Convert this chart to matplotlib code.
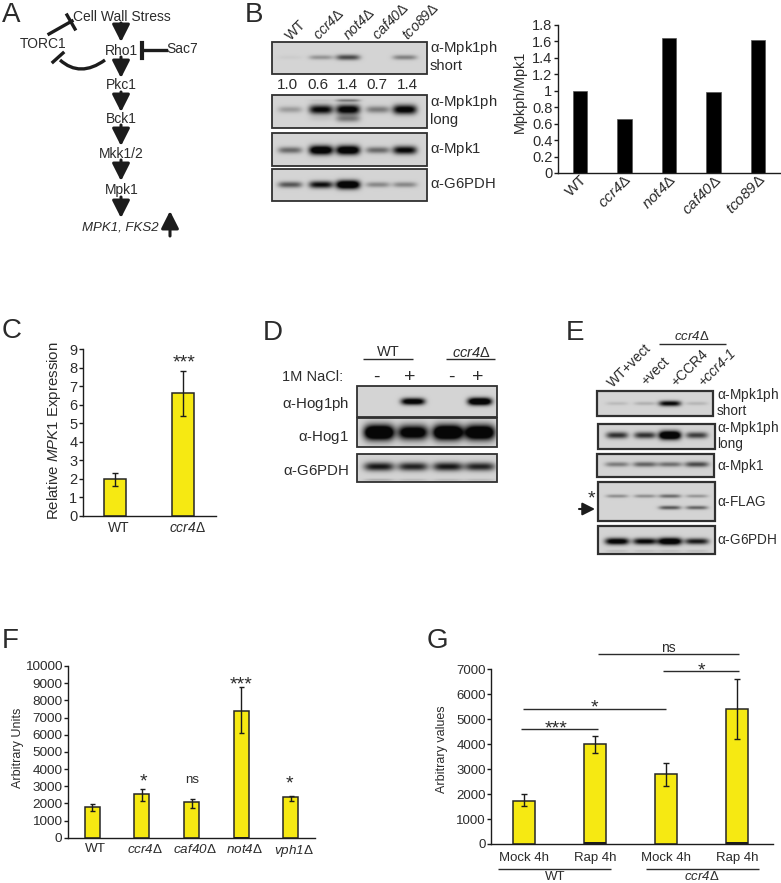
import matplotlib
matplotlib.use("Agg")
import matplotlib.pyplot as plt
import numpy as np
from matplotlib.patches import PathPatch, Rectangle
from matplotlib.path import Path
from matplotlib.transforms import ScaledTranslation

plt.rcParams['font.family'] = ['Liberation Sans', 'DejaVu Sans']
plt.rcParams['mathtext.fontset'] = 'custom'
plt.rcParams['mathtext.rm'] = 'Liberation Sans'
plt.rcParams['mathtext.it'] = 'Liberation Sans:italic'
plt.rcParams['mathtext.bf'] = 'Liberation Sans:bold'

W, H = 781, 883
INK = '#2b2b2b'
YELLOW = '#f6e912'

DELTA = r"$\Delta$"
ALPHA = r"$\mathrm{\alpha}$"

# panel B bar chart
b_labels = ['WT', 'ccr4' + DELTA, 'not4' + DELTA, 'caf40' + DELTA, 'tco89' + DELTA]
b_values = [1.0, 0.66, 1.64, 0.99, 1.62]
b_ticks = [0, 0.2, 0.4, 0.6, 0.8, 1, 1.2, 1.4, 1.6, 1.8]
b_ticklabels = ['0', '0.2', '0.4', '0.6', '0.8', '1', '1.2', '1.4', '1.6', '1.8']
b_ratios = ['1.0', '0.6', '1.4', '0.7', '1.4']

# panel C
c_labels = ['WT', 'ccr4' + DELTA]
c_values = [2.0, 6.65]
c_err_low = [0.4, 1.25]
c_err_high = [0.3, 1.2]
c_ticks = [0, 1, 2, 3, 4, 5, 6, 7, 8, 9]

# panel F
f_labels = ['WT', 'ccr4' + DELTA, 'caf40' + DELTA, 'not4' + DELTA, 'vph1' + DELTA]
f_values = [1780, 2550, 2080, 7400, 2360]
f_err_low = [220, 415, 370, 1320, 225]
f_err_high = [200, 265, 150, 1360, 70]
f_base = [0, 0, 0, 130, 0]
f_ticks = [0, 1000, 2000, 3000, 4000, 5000, 6000, 7000, 8000, 9000, 10000]

# panel G
g_labels = ['Mock 4h', 'Rap 4h', 'Mock 4h', 'Rap 4h']
g_values = [1737, 3994, 2805, 5397]
g_err_low = [214, 361, 481, 1202]
g_err_high = [267, 334, 454, 1203]
g_base = [0, 80, 0, 80]
g_ticks = [0, 1000, 2000, 3000, 4000, 5000, 6000, 7000]

# blot band strengths, one per lane
bb_short = [0.03, 0.25, 0.55, 0.0, 0.33]
bb_long = [0.22, 0.85, 0.95, 0.35, 0.92]
bb_long_smear = [0.0, 0.05, 0.35, 0.0, 0.0]
bb_mpk1 = [0.42, 1.1, 1.1, 0.42, 0.85]
bb_g6pdh = [0.5, 0.8, 1.2, 0.3, 0.3]

dd_hog1ph = [0.0, 1.0, 0.0, 1.2]
dd_hog1 = [1.4, 1.1, 1.4, 1.3]
dd_g6pdh = [0.75, 0.7, 0.75, 0.7]
dd_g6pdh_low = [0.15, 0.1, 0.1, 0.1]

ee_short = [0.1, 0.14, 0.85, 0.12]
ee_long = [0.65, 0.65, 1.3, 0.6]
ee_mpk1 = [0.35, 0.45, 0.4, 0.55]
ee_flag_top = [0.28, 0.28, 0.42, 0.25]
ee_flag_low = [0.0, 0.0, 0.5, 0.45]
ee_g6pdh = [0.95, 0.85, 1.1, 0.75]
ee_g6pdh_low = [0.1, 0.1, 0.1, 0.1]


fig = plt.figure(figsize=(W / 100, H / 100), dpi=100, facecolor='white')

# overlay in image pixels, for the diagram, blots and annotations
ov = fig.add_axes([0, 0, 1, 1], zorder=5)
ov.set_xlim(0, W)
ov.set_ylim(H, 0)
ov.axis('off')
ov.set_autoscale_on(False)


def txt(x, y, s, size=10, ha='center', va='center', **kw):
    ov.text(x, y, s, fontsize=size, ha=ha, va=va, color=INK, **kw)


def stars(x, y, n=1):
    # baseline sits well below the asterisk itself
    txt(x, y + 8, '*' * n, size=14, va='baseline')


def hline(x0, x1, y, lw=1.0):
    ov.plot([x0, x1], [y, y], color=INK, lw=lw, solid_capstyle='butt')


def arrow(x0, y0, x1, y1, scale=14, lw=2.2):
    ov.annotate('', xy=(x1, y1), xytext=(x0, y0),
                arrowprops=dict(arrowstyle='-|>,head_length=0.75,head_width=0.38',
                                mutation_scale=scale, lw=lw, color='#1c1c1c',
                                shrinkA=0, shrinkB=0))


def blot(x0, x1, y0, y1, lanes, rows, half_w=12, bg=0.83, lw=1.3):
    # rows: (fraction down the blot, band strengths, band half height)
    xs = np.linspace(x0, x1, int((x1 - x0) * 2))
    ys = np.linspace(y0, y1, int((y1 - y0) * 2))
    xx, yy = np.meshgrid(xs, ys)
    img = np.full(xx.shape, bg)
    for frac, strengths, half_h in rows:
        yc = y0 + frac * (y1 - y0)
        for lane, s in zip(lanes, strengths):
            h = half_h * (0.55 + 0.45 * min(s, 1.2))
            band = np.exp(-((xx - lane) / half_w) ** 4 - ((yy - yc) / h) ** 2)
            img -= s * band
    ov.imshow(np.clip(img, 0.03, 1), extent=(x0, x1, y1, y0), aspect='auto',
              cmap='gray', vmin=0, vmax=1, interpolation='bilinear', zorder=1)
    ov.add_patch(Rectangle((x0, y0), x1 - x0, y1 - y0, fill=False,
                           ec='#303030', lw=lw, zorder=2))


def chart_axes(x0, x1, ytop, ybot, first, step, ymax):
    ax = fig.add_axes([x0 / W, 1 - ybot / H, (x1 - x0) / W, (ybot - ytop) / H])
    ax.set_xlim((x0 - first) / step, (x1 - first) / step)
    ax.set_ylim(0, ymax)
    ax.spines[['top', 'right']].set_visible(False)
    ax.spines[['left', 'bottom']].set_linewidth(1.0)
    ax.spines[['left', 'bottom']].set_color('#1c1c1c')
    ax.patch.set_visible(False)
    return ax


# ---- letters
for x, y, letter in [(2, 22, 'A'), (245, 22, 'B'), (2, 338, 'C'), (263, 340, 'D'),
                     (566, 340, 'E'), (2, 648, 'F'), (427, 648, 'G')]:
    txt(x, y, letter, size=20, ha='left', va='baseline')

# ---- A: pathway
txt(122, 17, 'Cell Wall Stress')
txt(43, 44, 'TORC1')
txt(121, 51, 'Rho1')
txt(182, 49, 'Sac7')
txt(121, 85, 'Pkc1')
txt(121, 119, 'Bck1')
txt(121, 154, 'Mkk1/2')
txt(122, 190, 'Mpk1')
txt(120, 227, 'MPK1, FKS2', size=9.5, style='italic')

for y0, y1 in [(23, 42), (57, 78), (92, 112), (125, 146), (160, 181), (197, 218)]:
    arrow(121, y0, 121, y1)
arrow(170, 236, 170, 211)

ov.plot([49, 72], [34, 21], color='#1c1c1c', lw=2.4)
ov.plot([67, 75], [15, 29], color='#1c1c1c', lw=2.4)
ov.plot([166, 142], [50, 50], color='#1c1c1c', lw=2.4)
ov.plot([142, 142], [43, 58], color='#1c1c1c', lw=3)
ov.add_patch(PathPatch(Path([(105, 60), (80, 78), (60, 60)],
                            [Path.MOVETO, Path.CURVE3, Path.CURVE3]),
                       fill=False, ec='#1c1c1c', lw=2.4))
ov.plot([53, 63], [62, 53], color='#1c1c1c', lw=2.4)

# ---- B: blots
lanes_b = [290, 321, 348, 378, 405]
blot(272, 427, 42, 74, lanes_b, [(0.48, bb_short, 3.5)])
blot(272, 427, 95, 128, lanes_b, [(0.44, bb_long, 5), (0.16, bb_long_smear, 2),
                                  (0.72, bb_long_smear, 5)])
blot(272, 427, 133, 166, lanes_b, [(0.52, bb_mpk1, 4.5)])
blot(272, 427, 169, 201, lanes_b, [(0.49, bb_g6pdh, 4)])

for x, s in zip([287, 318, 347, 377, 407], b_ratios):
    txt(x, 85, s, size=11)
for x, s in zip([293, 321, 351, 380, 410], b_labels):
    txt(x, 43, s, size=10.3, ha='left', va='bottom', rotation=45, rotation_mode='anchor',
        style='normal' if s == 'WT' else 'italic')
txt(430, 48, ALPHA + '-Mpk1ph', size=10.7, ha='left')
txt(430, 66, 'short', size=10.7, ha='left')
txt(430, 102, ALPHA + '-Mpk1ph', size=10.7, ha='left')
txt(430, 120, 'long', size=10.7, ha='left')
txt(430, 149, ALPHA + '-Mpk1', size=10.7, ha='left')
txt(430, 184, ALPHA + '-G6PDH', size=10.7, ha='left')

# ---- B: bar chart
ax = chart_axes(558, 780, 25, 173, 580, 44.5, 1.8)
ax.bar(np.arange(len(b_values)), b_values, width=14.5 / 44.5, color='black',
       edgecolor='#555555', linewidth=0.5)
ax.set_yticks(b_ticks, b_ticklabels, fontsize=10.5, color=INK)
ax.set_xticks(np.arange(len(b_labels)), b_labels)
ax.tick_params(axis='y', length=3, width=1, pad=1, color='#1c1c1c')
ax.tick_params(axis='x', length=0, pad=4)
for lab, s in zip(ax.get_xticklabels(), b_labels):
    lab.set(rotation=45, ha='right', rotation_mode='anchor', fontsize=11, color=INK,
            style='normal' if s == 'WT' else 'italic')
    lab.set_transform(lab.get_transform() + ScaledTranslation(0, 6 / 100, fig.dpi_scale_trans))
txt(520, 92, 'Mpkph/Mpk1', size=10.4, rotation=90)

# ---- C
ax = chart_axes(83, 216, 349.3, 515.7, 114.7, 68.4, 9)
xc = np.arange(len(c_values))
ax.bar(xc, c_values, width=22 / 68.4, color=YELLOW, edgecolor='#262626', linewidth=1.1)
ax.errorbar(xc, c_values, yerr=[c_err_low, c_err_high], fmt='none', ecolor='#1c1c1c',
            elinewidth=1, capsize=2, capthick=1)
ax.set_yticks(c_ticks, [str(t) for t in c_ticks], fontsize=10.5, color=INK)
ax.set_xticks(xc, c_labels)
ax.tick_params(axis='y', length=3, width=1, pad=1, color='#1c1c1c')
ax.tick_params(axis='x', length=0, pad=4)
for lab, s in zip(ax.get_xticklabels(), c_labels):
    lab.set(fontsize=10, color=INK, style='normal' if s == 'WT' else 'italic')
    lab.set_transform(lab.get_transform() + ScaledTranslation(4 / 100, 0, fig.dpi_scale_trans))
txt(54, 431, r'Relative $\mathit{MPK1}$ Expression', size=10.8, rotation=90)
stars(184, 359, 3)

# ---- D: blots
lanes_d = [379, 413, 448, 480]
blot(357, 497, 386, 417, lanes_d, [(0.5, dd_hog1ph, 3.5)], half_w=12)
blot(357, 497, 418, 447, lanes_d, [(0.5, dd_hog1, 7)], half_w=15)
blot(357, 497, 454, 482, lanes_d, [(0.45, dd_g6pdh, 5), (0.93, dd_g6pdh_low, 2)], half_w=15)

txt(388, 352, 'WT', size=10.5)
hline(363, 413, 359)
txt(471, 353, 'ccr4' + DELTA, size=10.5, style='italic')
hline(446, 495, 359)
txt(343, 377, '1M NaCl:', size=10.5, ha='right')
for x, s in zip([376, 410, 451, 478], ['-', '+', '-', '+']):
    txt(x, 377, s, size=14)
txt(349, 404, ALPHA + '-Hog1ph', size=10.8, ha='right')
txt(349, 437, ALPHA + '-Hog1', size=10.8, ha='right')
txt(349, 471, ALPHA + '-G6PDH', size=10.8, ha='right')

# ---- E: blots
lanes_e = [617, 645, 670, 697]
blot(597, 713, 391, 416, lanes_e, [(0.5, ee_short, 3)], half_w=11, lw=1.6)
blot(598, 715, 424, 449, lanes_e, [(0.45, ee_long, 4)], half_w=11, lw=1.6)
blot(597, 714, 454, 477, lanes_e, [(0.45, ee_mpk1, 3.5)], half_w=12, lw=1.6)
blot(598, 715, 482, 521, lanes_e, [(0.36, ee_flag_top, 2.5), (0.66, ee_flag_low, 2.5)],
     half_w=11, lw=1.6)
blot(598, 715, 526, 554, lanes_e, [(0.55, ee_g6pdh, 3.5), (0.9, ee_g6pdh_low, 2)],
     half_w=12, lw=1.6)

txt(692, 337, 'ccr4' + DELTA, size=9.5, style='italic')
hline(659, 726, 344)
for x, y, s, st in [(615, 390, 'WT+vect', 'normal'), (648, 388, '+vect', 'normal'),
                    (678, 389, '+CCR4', 'normal'), (705, 389, '+ccr4-1', 'italic')]:
    txt(x, y, s, size=10, ha='left', va='bottom', rotation=45, rotation_mode='anchor', style=st)
txt(717, 395, ALPHA + '-Mpk1ph', size=9.8, ha='left')
txt(717, 411, 'short', size=9.8, ha='left')
txt(717, 428, ALPHA + '-Mpk1ph', size=9.8, ha='left')
txt(717, 444, 'long', size=9.8, ha='left')
txt(717, 466, ALPHA + '-Mpk1', size=9.8, ha='left')
txt(717, 502, ALPHA + '-FLAG', size=9.8, ha='left')
txt(717, 540, ALPHA + '-G6PDH', size=9.8, ha='left')
stars(591, 495)
arrow(579, 509, 595, 509, scale=10, lw=1.5)

# ---- F
ax = chart_axes(68, 315, 666, 837.7, 92.3, 49.6, 10000)
xf = np.arange(len(f_values))
ax.bar(xf, f_values, width=15 / 49.6, color=YELLOW, edgecolor='#262626', linewidth=1.1)
ax.bar(xf, f_base, width=15 / 49.6, bottom=-70, color='#1c1c1c', clip_on=False)
ax.errorbar(xf, f_values, yerr=[f_err_low, f_err_high], fmt='none', ecolor='#1c1c1c',
            elinewidth=1, capsize=1.8, capthick=1)
ax.set_yticks(f_ticks, [str(t) for t in f_ticks], fontsize=9.7, color=INK)
ax.set_xticks(xf, f_labels)
ax.tick_params(axis='y', length=3, width=1, pad=1, color='#1c1c1c')
ax.tick_params(axis='x', length=0, pad=4)
for lab, s in zip(ax.get_xticklabels(), f_labels):
    lab.set(fontsize=9.7, color=INK, style='normal' if s == 'WT' else 'italic')
    lab.set_transform(lab.get_transform() + ScaledTranslation(3 / 100, 0, fig.dpi_scale_trans))
txt(18, 748, 'Arbitrary Units', size=9, rotation=90)
stars(241, 681, 3)
stars(143, 778)
txt(192, 780, 'ns', size=9.5)
stars(289, 780)

# ---- G
ax = chart_axes(490.7, 773, 669.3, 844, 524.3, 71, 7000)
xg = np.arange(len(g_values))
ax.bar(xg, g_values, width=22 / 71, color=YELLOW, edgecolor='#262626', linewidth=1.1)
ax.bar(xg, g_base, width=22 / 71, color='#1c1c1c')
ax.errorbar(xg, g_values, yerr=[g_err_low, g_err_high], fmt='none', ecolor='#1c1c1c',
            elinewidth=1, capsize=2, capthick=1)
ax.set_yticks(g_ticks, [str(t) for t in g_ticks], fontsize=9.5, color=INK)
ax.set_xticks(xg, g_labels)
ax.tick_params(axis='y', length=3, width=1, pad=0.5, color='#1c1c1c')
ax.tick_params(axis='x', length=0, pad=5.5, labelsize=9.5, labelcolor=INK)
txt(442, 749, 'Arbitrary values', size=9, rotation=90)

txt(668, 648, 'ns')
hline(598, 739, 654)
stars(701, 667)
hline(663, 739, 671)
stars(594, 704)
hline(523, 666, 709)
stars(556, 725, 3)
hline(521, 598, 729)
hline(498, 611, 869)
hline(646, 759, 869)
txt(555, 877, 'WT', size=9.5)
txt(702, 877, 'ccr4' + DELTA, size=9.5, style='italic')

fig.savefig('out.png', dpi=100)
